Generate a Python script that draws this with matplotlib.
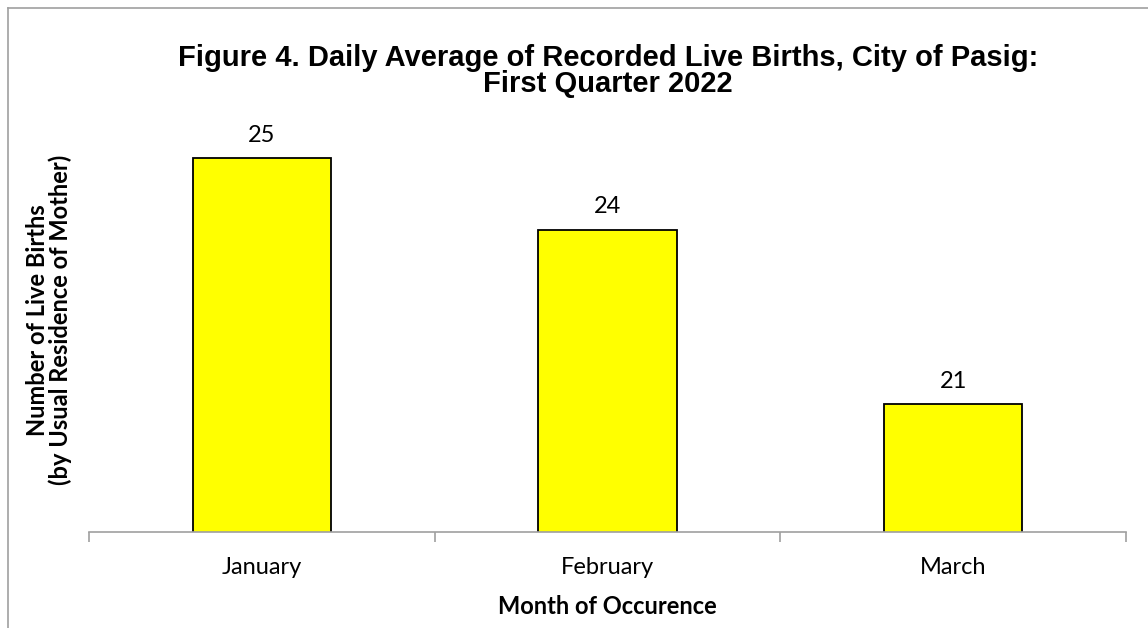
import matplotlib
matplotlib.use("Agg")
import matplotlib.pyplot as plt
from matplotlib.lines import Line2D

months = ["January", "February", "March"]
daily_avg = [25.0, 23.85, 21.05]

W, H = 1148, 628
fig = plt.figure(figsize=(W / 100, H / 100), dpi=100)
fig.patch.set_facecolor("white")

ax_l, ax_r, ax_b, ax_t = 89, 1126, 532, 96
ax = fig.add_axes([ax_l / W, 1 - ax_b / H, (ax_r - ax_l) / W, (ax_b - ax_t) / H])

x = list(range(len(months)))
ax.bar(x, daily_avg, width=0.4, color="#FFFF00", edgecolor="black",
       linewidth=1.3, bottom=0)
ax.set_ylim(19, 26)
ax.set_xlim(-0.5, len(months) - 0.5)

for xi, v in zip(x, daily_avg):
    ax.text(xi, v + 0.2, f"{v:.0f}", ha="center", va="bottom",
            fontsize=17, family="Lato")

for s in ["top", "right", "left"]:
    ax.spines[s].set_visible(False)
ax.spines["bottom"].set_color("#a0a0a0")
ax.spines["bottom"].set_linewidth(1.2)
ax.set_yticks([])
ax.set_xticks([-0.5, 0.5, 1.5, 2.5])
ax.set_xticklabels([])
ax.tick_params(axis="x", length=7, color="#a0a0a0", width=1.2)
for xi, m in zip(x, months):
    fig.text((ax_l + (xi + 0.5) * (ax_r - ax_l) / 3) / W, 1 - 568 / H, m,
             ha="center", va="center", fontsize=17, family="Lato")

fig.text(608 / W, 1 - 71 / H,
         "Figure 4. Daily Average of Recorded Live Births, City of Pasig:\nFirst Quarter 2022",
         ha="center", va="center", fontsize=21, fontweight="bold",
         family="Liberation Sans", linespacing=0.92)
fig.text(607 / W, 1 - 607 / H, "Month of Occurence", ha="center", va="center",
         fontsize=17, fontweight="bold", family="Lato")
fig.text(49 / W, 1 - 320 / H, "Number of Live Births\n(by Usual Residence of Mother)",
         ha="center", va="center", rotation=90, fontsize=17, fontweight="bold",
         family="Lato", linespacing=1.0)

fig.add_artist(Line2D([8 / W, 8 / W], [0, 1 - 8 / H], transform=fig.transFigure,
                      color="#a0a0a0", linewidth=1.2))
fig.add_artist(Line2D([8 / W, 1], [1 - 8 / H, 1 - 8 / H], transform=fig.transFigure,
                      color="#a0a0a0", linewidth=1.2))

fig.savefig("out.png", dpi=100)
